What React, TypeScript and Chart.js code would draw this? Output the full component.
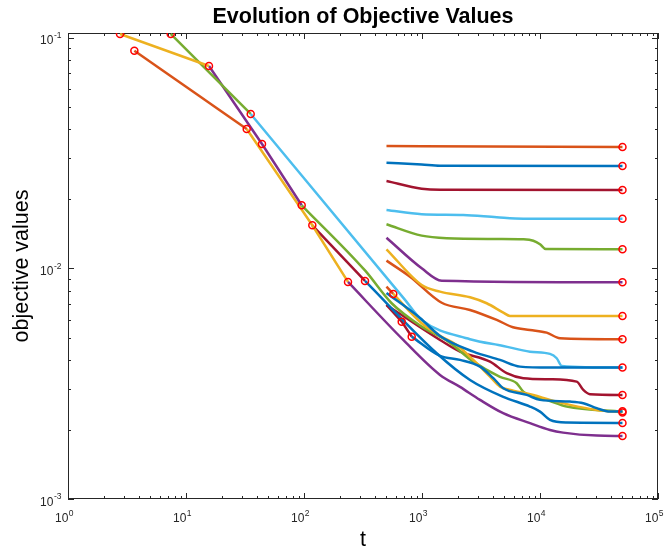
import React, { useEffect, useRef } from 'react';
import { Chart, registerables } from 'chart.js';

Chart.register(...registerables);

// ---------------- data (t, objective value) ----------------
// early descent segments
const s01t = [2.76, 15.66];
const s01v = [0.1038, 0.0754];
const s02t = [3.65, 32.7];
const s02v = [0.0878, 0.0402];
const s03t = [7.42, 35.35];
const s03v = [0.1038, 0.0467];
const s04t = [15.66, 44.07, 95.6];
const s04v = [0.0754, 0.0346, 0.01877];
const s05t = [32.7, 117.6, 236];
const s05v = [0.0402, 0.01537, 0.00873];
const s06t = [35.35, 718, 994, 2552, 4887, 8228, 12150, 13850, 15280, 50000];
const s06v = [0.0467, 0.0073, 0.005975, 0.004928, 0.004609, 0.004354, 0.004256, 0.004077, 0.003776, 0.003712];
const s07t = [95.6, 328.8, 553, 994, 1671, 2721, 4581, 6345, 7220, 12150, 16840, 50000];
const s07v = [0.01877, 0.009793, 0.007058, 0.005588, 0.004811, 0.003941, 0.003384, 0.003177, 0.002921, 0.00266, 0.002516, 0.002393];
const s08t = [117.6, 328.8];
const s08v = [0.01537, 0.008819];
const s09t = [236, 694, 1421, 2099, 3101, 4870, 8228, 12150, 15700, 30400, 50000];
const s09v = [0.00873, 0.004893, 0.003451, 0.003062, 0.00269, 0.002356, 0.002132, 0.001992, 0.00194, 0.001883, 0.001877];
const s10t = [328.8, 1332, 2552, 4887, 8228, 10000, 12150, 16840, 50000];
const s10v = [0.008819, 0.004285, 0.003283, 0.002772, 0.002516, 0.002393, 0.002203, 0.002144, 0.002138];
// runs restarted at t = 500
const s11t = [500, 962, 1421, 2721, 4581, 6768, 12150, 50000];
const s11v = [0.007822, 0.006095, 0.005093, 0.004354, 0.004009, 0.003749, 0.003712, 0.003712];
const s12t = [500, 1421, 2099, 3770, 5222, 7220, 12150, 20460, 23280, 26530, 50000];
const s12v = [0.00694, 0.004893, 0.004354, 0.003941, 0.00351, 0.00334, 0.003306, 0.003228, 0.002971, 0.002847, 0.002827];
const s13t = [818, 1421, 2099, 3101, 4021, 4887, 7716, 10000, 17960, 23280, 30230, 39200, 50000];
const s13v = [0.005058, 0.004172, 0.004009, 0.003749, 0.00334, 0.003022, 0.002827, 0.00269, 0.002644, 0.002603, 0.002476, 0.002393, 0.002393];
const s14t = [571, 994, 1421, 1968, 2721, 3770, 4581, 5939, 8774, 12150, 17960, 30230, 50000];
const s14v = [0.007745, 0.005781, 0.005093, 0.004656, 0.004009, 0.003393, 0.003071, 0.002951, 0.002827, 0.00269, 0.002559, 0.002434, 0.002378];
const s15t = [500, 571];
const s15v = [0.008332, 0.007745];
const s16t = [500, 673, 818];
const s16v = [0.00694, 0.005875, 0.005058];
const s17t = [500, 1000, 50000];
const s17v = [0.03394, 0.0338, 0.03359];
const s18t = [500, 994, 1421, 50000];
const s18v = [0.02872, 0.0282, 0.02787, 0.02779];
const s19t = [500, 994, 1421, 50000];
const s19v = [0.02392, 0.02215, 0.0219, 0.02186];
const s20t = [500, 994, 2239, 4296, 7220, 50000];
const s20v = [0.01791, 0.01716, 0.01704, 0.01665, 0.01642, 0.01642];
const s21t = [500, 994, 1619, 4296, 7220, 8774, 10000, 11180, 50000];
const s21v = [0.01553, 0.01386, 0.01351, 0.01341, 0.01336, 0.01318, 0.01272, 0.01213, 0.0121];
const s22t = [500, 994, 1469, 50000];
const s22v = [0.01358, 0.01001, 0.008845, 0.008705];
const s23t = [500, 994, 1421, 2552, 3534, 4887, 5569, 50000];
const s23v = [0.0121, 0.008472, 0.007925, 0.007491, 0.007058, 0.006427, 0.006219, 0.006219];
const s24t = [500, 791, 1469, 2552, 4296, 5904, 8228, 11400, 14770, 50000];
const s24v = [0.0108, 0.009205, 0.007094, 0.006602, 0.005975, 0.005555, 0.005408, 0.005264, 0.004977, 0.004928];

// red circle markers
const circleT = [2.76, 7.42, 3.65, 15.66, 35.35, 32.7, 44.07, 95.6, 117.6, 236, 328.8, 571, 673, 818,
  50000, 50000, 50000, 50000, 50000, 50000, 50000, 50000, 50000, 50000, 50000, 50000, 50000, 50000];
const circleV = [0.1038, 0.1038, 0.0878, 0.0754, 0.0467, 0.0402, 0.0346, 0.01877, 0.01537, 0.00873, 0.008819, 0.007745, 0.005875, 0.005058,
  0.03359, 0.02779, 0.02186, 0.01642, 0.0121, 0.008705, 0.006219, 0.004928, 0.003712, 0.002827, 0.0024, 0.00237, 0.002138, 0.001877];

// axes (tick labels are 10 raised to the exponent)
const xTickValues = [1, 10, 100, 1000, 10000, 100000];
const xTickExps = ['0', '1', '2', '3', '4', '5'];
const yTickValues = [0.001, 0.01, 0.1];
const yTickExps = ['-3', '-2', '-1'];
const tickBase = '10';
const xMin = 1;
const xMax = 100000;
const yMin = 0.001;
const yMax = 0.1048;

const titleText = 'Evolution of Objective Values';
const xLabel = 't';
const yLabel = 'objective values';

// ---------------- styles ----------------
const COL = {
  blue: '#0072BD',
  orange: '#D95319',
  yellow: '#EDB120',
  purple: '#7E2F8E',
  green: '#77AC30',
  lightBlue: '#4DBEEE',
  darkRed: '#A2142F',
};

const seriesList: { t: number[]; v: number[]; color: string }[] = [
  { t: s11t, v: s11v, color: COL.blue },
  { t: s18t, v: s18v, color: COL.blue },
  { t: s10t, v: s10v, color: COL.blue },
  { t: s13t, v: s13v, color: COL.blue },
  { t: s14t, v: s14v, color: COL.yellow },
  { t: s07t, v: s07v, color: COL.green },
  { t: s12t, v: s12v, color: COL.darkRed },
  { t: s09t, v: s09v, color: COL.purple },
  { t: s06t, v: s06v, color: COL.lightBlue },
  { t: s01t, v: s01v, color: COL.yellow },
  { t: s02t, v: s02v, color: COL.orange },
  { t: s03t, v: s03v, color: COL.green },
  { t: s04t, v: s04v, color: COL.purple },
  { t: s05t, v: s05v, color: COL.yellow },
  { t: s08t, v: s08v, color: COL.darkRed },
  { t: s15t, v: s15v, color: COL.orange },
  { t: s16t, v: s16v, color: COL.darkRed },
  { t: s17t, v: s17v, color: COL.orange },
  { t: s19t, v: s19v, color: COL.darkRed },
  { t: s20t, v: s20v, color: COL.lightBlue },
  { t: s21t, v: s21v, color: COL.green },
  { t: s22t, v: s22v, color: COL.purple },
  { t: s23t, v: s23v, color: COL.yellow },
  { t: s24t, v: s24v, color: COL.orange },
];

const FONT = '"Liberation Sans", Arial, Helvetica, "DejaVu Sans", sans-serif';
const AXIS_COLOR = '#262626';

const boxPlugin = {
  id: 'matlabBox',
  beforeDatasetsDraw(chart: any) {
    const { ctx, chartArea, scales } = chart;
    const { left, right, top, bottom } = chartArea;
    const xs = scales.x;
    const ys = scales.y;
    ctx.save();
    ctx.strokeStyle = AXIS_COLOR;
    ctx.lineWidth = 1;
    ctx.beginPath();
    const xe0 = Math.floor(Math.log10(xs.min));
    const xe1 = Math.ceil(Math.log10(xs.max));
    for (let e = xe0; e <= xe1; e++) {
      for (let m = 1; m <= 9; m++) {
        const val = m * Math.pow(10, e);
        if (val < xs.min * 0.999 || val > xs.max * 1.001) continue;
        const px = Math.round(xs.getPixelForValue(val)) + 0.5;
        const len = m === 1 ? 6 : 3;
        ctx.moveTo(px, bottom);
        ctx.lineTo(px, bottom - len);
        ctx.moveTo(px, top);
        ctx.lineTo(px, top + len);
      }
    }
    const ye0 = Math.floor(Math.log10(ys.min));
    const ye1 = Math.ceil(Math.log10(ys.max));
    for (let e = ye0; e <= ye1; e++) {
      for (let m = 1; m <= 9; m++) {
        const val = m * Math.pow(10, e);
        if (val < ys.min * 0.999 || val > ys.max * 1.001) continue;
        const py = Math.round(ys.getPixelForValue(val)) + 0.5;
        const len = m === 1 ? 6 : 3;
        ctx.moveTo(left, py);
        ctx.lineTo(left + len, py);
        ctx.moveTo(right, py);
        ctx.lineTo(right - len, py);
      }
    }
    ctx.stroke();
    ctx.strokeRect(Math.round(left) + 0.5, Math.round(top) + 0.5, Math.round(right - left) - 1, Math.round(bottom - top) - 1);
    ctx.restore();
  },
};

// power-of-ten tick labels with a raised exponent
const powerLabelPlugin = {
  id: 'powerLabels',
  afterDraw(chart: any) {
    const { ctx, chartArea, scales } = chart;
    const { left, bottom } = chartArea;
    const xs = scales.x;
    const ys = scales.y;
    ctx.save();
    ctx.fillStyle = AXIS_COLOR;
    ctx.textBaseline = 'alphabetic';
    xTickValues.forEach((v, i) => {
      const px = xs.getPixelForValue(v);
      ctx.font = `12px ${FONT}`;
      ctx.textAlign = 'right';
      ctx.fillText(tickBase, px + 0.3, bottom + 22.7);
      ctx.font = `8.5px ${FONT}`;
      ctx.textAlign = 'left';
      ctx.fillText(xTickExps[i], px + 0.8, bottom + 16.5);
    });
    yTickValues.forEach((v, i) => {
      const py = ys.getPixelForValue(v);
      ctx.font = `8.5px ${FONT}`;
      ctx.textAlign = 'right';
      const ex = left - 6.5;
      ctx.fillText(yTickExps[i], ex, py + 0.3);
      const w = ctx.measureText(yTickExps[i]).width;
      ctx.font = `12px ${FONT}`;
      ctx.fillText(tickBase, ex - w - 0.5, py + 6.5);
    });
    ctx.restore();
  },
};

export default function App() {
  const ref = useRef<HTMLCanvasElement>(null);

  useEffect(() => {
    if (!ref.current) return;
    const lineSets = seriesList.map((s) => ({
      type: 'scatter' as const,
      data: s.t.map((tv, i) => ({ x: tv, y: s.v[i] })),
      showLine: true,
      borderColor: s.color,
      backgroundColor: s.color,
      borderWidth: 2.5,
      pointRadius: 0,
      pointHoverRadius: 0,
      tension: 0,
      cubicInterpolationMode: s.t.length >= 4 ? ('monotone' as const) : ('default' as const),
      order: 1,
    }));
    const circleSet = {
      type: 'scatter' as const,
      data: circleT.map((tv, i) => ({ x: tv, y: circleV[i] })),
      showLine: false,
      pointStyle: 'circle' as const,
      pointRadius: 3.5,
      pointHoverRadius: 3.5,
      pointBorderWidth: 1.5,
      pointBorderColor: '#FF0000',
      pointBackgroundColor: 'rgba(0,0,0,0)',
      borderColor: '#FF0000',
      backgroundColor: 'rgba(0,0,0,0)',
      order: 0,
    };

    const chart = new Chart(ref.current, {
      type: 'scatter',
      data: { datasets: [circleSet, ...lineSets] as any },
      options: {
        responsive: false,
        devicePixelRatio: 1,
        animation: false,
        events: [],
        layout: { padding: { left: 0, right: 10, top: 0, bottom: 0 } },
        plugins: {
          legend: { display: false },
          tooltip: { enabled: false },
          title: { display: false },
        },
        scales: {
          x: {
            type: 'logarithmic',
            position: 'bottom',
            min: xMin,
            max: xMax,
            afterBuildTicks: (s: any) => {
              s.ticks = xTickValues.map((v) => ({ value: v }));
            },
            afterFit: (s: any) => {
              s.height = 57;
            },
            grid: { display: false, drawTicks: false },
            border: { display: false },
            ticks: { display: false },
            title: {
              display: true,
              text: xLabel,
              color: '#000',
              font: { family: FONT, size: 21.5 },
              padding: { top: 0, bottom: 2.6 },
            },
          },
          xTop: {
            type: 'linear',
            position: 'top',
            min: 0,
            max: 1,
            afterFit: (s: any) => {
              s.height = 33;
            },
            grid: { display: false, drawTicks: false },
            border: { display: false },
            ticks: { display: false },
            title: {
              display: true,
              text: titleText,
              color: '#000',
              font: { family: FONT, size: 21.5, weight: 'bold' },
              padding: { top: 4.2, bottom: 0 },
            },
          },
          y: {
            type: 'logarithmic',
            position: 'left',
            min: yMin,
            max: yMax,
            afterBuildTicks: (s: any) => {
              s.ticks = yTickValues.map((v) => ({ value: v }));
            },
            afterFit: (s: any) => {
              s.width = 68;
            },
            grid: { display: false, drawTicks: false },
            border: { display: false },
            ticks: { display: false },
            title: {
              display: true,
              text: yLabel,
              color: '#000',
              font: { family: FONT, size: 21.5 },
              padding: { top: 9.5, bottom: 0 },
            },
          },
        },
      } as any,
      plugins: [boxPlugin, powerLabelPlugin],
    });
    return () => chart.destroy();
  }, []);

  return (
    <div style={{ position: 'absolute', left: 0, top: 0, width: 668, height: 556, background: '#fff' }}>
      <canvas ref={ref} width={668} height={556} style={{ display: 'block', width: 668, height: 556 }} />
    </div>
  );
}
